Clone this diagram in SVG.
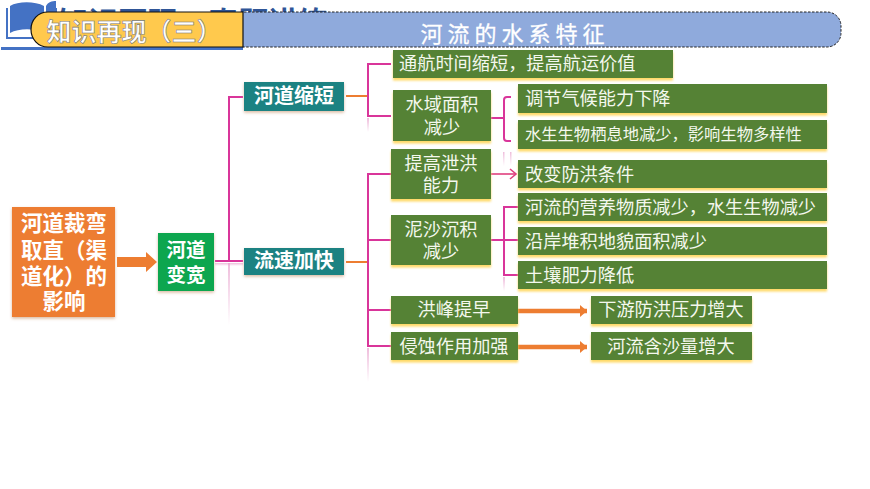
<svg xmlns="http://www.w3.org/2000/svg" width="870" height="489" viewBox="0 0 870 489">
<defs>
<style>
text{font-family:"Noto Sans CJK SC","Liberation Sans",sans-serif;text-anchor:middle}
.g{fill:#548235;filter:url(#ys)}
.t{fill:#f4f8ee;font-size:18.200px}
.l{text-anchor:start}
.b{fill:#fff;font-weight:700;font-size:19.500px}
.r{font-size:21.500px}
.c{fill:none;stroke:#d9359a;stroke-width:2}
.o{fill:none;stroke:#ed7d31;stroke-width:2}
.oa{fill:none;stroke:#ed7d31;stroke-width:4.500;marker-end:url(#ah)}
.f{fill:url(#fade)}
</style>
<linearGradient id="fade" x1="0" y1="0" x2="0" y2="1"><stop offset="0" stop-color="#e8a0cc" stop-opacity=".7"/><stop offset="1" stop-color="#e8a0cc" stop-opacity="0"/></linearGradient>
<filter id="ys" x="-5%" y="-10%" width="110%" height="130%"><feDropShadow dx="0" dy="2.500" stdDeviation="0.800" flood-color="#ffd966"/></filter>
<filter id="ws" x="-10%" y="-10%" width="120%" height="125%"><feDropShadow dx="0" dy="1.500" stdDeviation="1.500" flood-color="#d9b9a0"/></filter>
<marker id="ah" markerUnits="userSpaceOnUse" markerWidth="8" markerHeight="12" refX="7" refY="6" orient="auto"><path d="M0 0L7 6L0 12z" fill="#ed7d31"/></marker>
<marker id="ap" markerUnits="userSpaceOnUse" markerWidth="9" markerHeight="12" refX="8" refY="6" orient="auto"><path d="M2 1L8 6L2 11" fill="none" stroke="#e0407f" stroke-width="1.600"/></marker>
</defs>
<rect width="870" height="489" fill="#fff"/>
<g id="header">
<path d="M7 8V38H56V8" fill="none" stroke="#4472c4" stroke-width="2"/>
<path d="M10 6C18 1 35 1 44 6V33C35 28 19 28 10 33z" fill="#4472c4"/>
<path d="M46 6C48 2 52 1 56 1V33C52 30 49 30 46 33z" fill="#4472c4"/>
<rect x="1" y="47" width="242" height="3" fill="#4472c4"/>
<text class="l" x="58" y="33" style="font-size:30px;font-weight:700;fill:#2f5597">知识再现·真题讲练</text>
<rect x="230" y="12" width="611" height="35" rx="14" fill="#8faadc" stroke="#222" stroke-width="1" stroke-dasharray="2.500 1.500"/>
<path d="M243 12H48C38 12 31 20 31 29.500C31 39 38 47 48 47H243z" fill="#ffc94d" stroke="#111" stroke-width="1.200"/>
<text x="134" y="41" style="font-size:25px;font-weight:700;fill:#fff;stroke:#777;stroke-width:.6">知识再现（三）</text>
<text x="515" y="42" style="font-size:22px;letter-spacing:5px;fill:#fff;stroke:#fff;stroke-width:.3">河流的水系特征</text>
</g>
<g id="connectors">
<rect class="f" x="228" y="263" width="2" height="62"/>
<rect class="f" x="215" y="263" width="28" height="3"/>
<rect class="f" x="367" y="348" width="2" height="34"/>
<rect class="f" x="367" y="118" width="2" height="14"/>
<rect class="f" x="503" y="152" width="1.500" height="14"/>
<rect class="f" x="510" y="152" width="1.500" height="14"/>
<rect class="f" x="503" y="277" width="2" height="14"/>
<path class="c" d="M243 97H229V261H243"/>
<path class="c" d="M215 261H243"/>
<path class="o" d="M346 96H368"/>
<path class="c" d="M391 64H368V116H391"/>
<path class="o" d="M346 262H368"/>
<path class="c" d="M391 174H368V346H391M368 240H391M368 310H391"/>
<path class="c" d="M491 118H503"/>
<path class="c" d="M511 97H507Q504 97 504 100V138Q504 141 507 141H511"/>
<path d="M491 174H516" fill="none" stroke="#e0407f" stroke-width="1.600" marker-end="url(#ap)"/>
<path class="c" d="M491 240H518M518 207H504V275H518"/>
<path class="oa" d="M518 311H587"/>
<path class="oa" d="M518 347H587"/>
<path d="M117 257H146V252L157 262L146 272V267H117z" fill="#ed7d31"/>
</g>
<g id="n-root"><rect x="12" y="207" width="103" height="110" fill="#ed7d31" filter="url(#ws)"/>
<text class="b r" x="64" y="231">河道裁弯</text><text class="b r" x="64" y="258">取直（渠</text><text class="b r" x="64" y="284">道化）的</text><text class="b r" x="64" y="309">影响</text></g>
<g id="n-widen"><rect x="158" y="233" width="56" height="58" fill="#0fa650" filter="url(#ws)"/>
<text class="b" x="186" y="257">河道</text><text class="b" x="186" y="282">变宽</text></g>
<g id="n-shorten"><rect x="244" y="82" width="100" height="29" fill="#1b8282" filter="url(#ws)"/><text class="b" x="294" y="103" style="font-size:20px">河道缩短</text></g>
<g id="n-faster"><rect x="244" y="248" width="100" height="27" fill="#1b8282" filter="url(#ws)"/><text class="b" x="294" y="268" style="font-size:20px">流速加快</text></g>
<g id="n1"><rect class="g" x="393" y="50" width="280" height="28"/><text class="t l" x="399" y="70">通航时间缩短，提高航运价值</text></g>
<g id="n2"><rect class="g" x="393" y="90" width="98" height="51"/><text class="t" x="442" y="111">水域面积</text><text class="t" x="442" y="134">减少</text></g>
<g id="n3"><rect class="g" x="518" y="84" width="309" height="29"/><text class="t l" x="525" y="105">调节气候能力下降</text></g>
<g id="n4"><rect class="g" x="518" y="120" width="309" height="29"/><text class="t l" x="525" y="140" style="font-size:16.300px">水生生物栖息地减少，影响生物多样性</text></g>
<g id="n5"><rect class="g" x="391" y="149" width="100" height="50"/><text class="t" x="441" y="170">提高泄洪</text><text class="t" x="441" y="192">能力</text></g>
<g id="n6"><rect class="g" x="518" y="160" width="309" height="28"/><text class="t l" x="525" y="181">改变防洪条件</text></g>
<g id="n7"><rect class="g" x="391" y="215" width="100" height="50"/><text class="t" x="441" y="236">泥沙沉积</text><text class="t" x="441" y="258">减少</text></g>
<g id="n8"><rect class="g" x="518" y="193" width="309" height="28"/><text class="t l" x="525" y="214">河流的营养物质减少，水生生物减少</text></g>
<g id="n9"><rect class="g" x="518" y="227" width="309" height="28"/><text class="t l" x="525" y="248">沿岸堆积地貌面积减少</text></g>
<g id="n10"><rect class="g" x="518" y="261" width="309" height="28"/><text class="t l" x="525" y="282">土壤肥力降低</text></g>
<g id="n11"><rect class="g" x="391" y="296" width="127" height="28"/><text class="t" x="454" y="316">洪峰提早</text></g>
<g id="n12"><rect class="g" x="391" y="332" width="127" height="28"/><text class="t" x="454" y="353">侵蚀作用加强</text></g>
<g id="n13"><rect class="g" x="591" y="296" width="161" height="28"/><text class="t" x="671" y="316">下游防洪压力增大</text></g>
<g id="n14"><rect class="g" x="591" y="332" width="161" height="28"/><text class="t" x="671" y="353">河流含沙量增大</text></g>
</svg>
